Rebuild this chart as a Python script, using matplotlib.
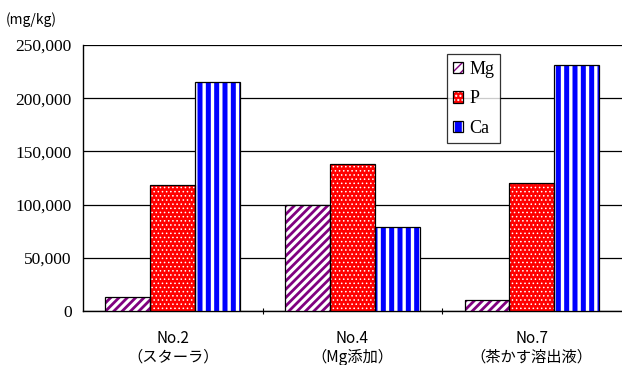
import matplotlib.pyplot as plt
import numpy as np
from matplotlib.patches import Patch
from matplotlib.legend_handler import HandlerTuple

# Element content per sample (mg/kg)
categories = ['No.2\n（スターラ）', 'No.4\n（Mg添加）', 'No.7\n（茶かす溶出液）']
series = ['Mg', 'P', 'Ca']
mg = [13500, 100000, 10500]
p = [118000, 138000, 120000]
ca = [215000, 79000, 231000]

values = [mg, p, ca]
hatches = ['////', '....', '||']
face = ['white', '#ff0000', '#0000ff']
hatch_col = ['#800080', 'white', 'white']
hatch_lw = [2.0, 0.6, 2.4]

fig = plt.figure(figsize=(6.22, 3.65), dpi=100)
ax = fig.add_axes([0.1334, 0.148, 0.866, 0.7287])

x = np.arange(len(categories))
w = 0.25
handles = []
for i, vals in enumerate(values):
    pos = x + (i - 1) * w
    bars = ax.bar(pos, vals, w, color=face[i], edgecolor=hatch_col[i],
                  hatch=hatches[i], linewidth=0, zorder=3)
    h1 = Patch(facecolor=face[i], edgecolor=hatch_col[i], hatch=hatches[i], linewidth=0)
    for b in list(bars) + [h1]:
        b.set_hatch_linewidth(hatch_lw[i])
    ax.bar(pos, vals, w, fill=False, edgecolor='black', linewidth=0.9, zorder=4)
    h2 = Patch(fill=False, edgecolor='black', linewidth=0.9)
    handles.append((h1, h2))

ax.set_xlim(-0.5, 2.5)
ax.set_ylim(0, 250000)
ax.set_yticks(np.arange(0, 250001, 50000))
ax.set_yticklabels([f'{v:,}' for v in range(0, 250001, 50000)],
                   family='Liberation Serif', fontsize=12.5)
ax.yaxis.grid(True, color='black', linewidth=0.9, zorder=0)
ax.set_axisbelow(True)
ax.tick_params(axis='y', length=0, pad=8)

ax.set_xticks(x)
ax.set_xticklabels(categories, family=['Noto Sans CJK JP', 'DejaVu Sans'],
                   fontsize=11, linespacing=1.1)
ax.tick_params(axis='x', length=0, pad=14)
ax.set_xticks([0.5, 1.5], minor=True)
ax.tick_params(axis='x', which='minor', length=4, direction='inout', width=0.8)

for s in ['top', 'right']:
    ax.spines[s].set_visible(False)
ax.spines['left'].set_linewidth(1.0)
ax.spines['bottom'].set_linewidth(1.0)

fig.text(0.01, 0.935, '(mg/kg)', family=['Noto Sans CJK JP', 'DejaVu Sans'],
         fontsize=10, ha='left', va='baseline')

leg = ax.legend(handles, series, handler_map={tuple: HandlerTuple(ndivide=1)},
                loc='upper left', bbox_to_anchor=(0.675, 0.965),
                prop={'family': 'Liberation Serif', 'size': 13},
                frameon=True, fancybox=False, edgecolor='black',
                handlelength=0.55, handleheight=0.6, handletextpad=0.35,
                labelspacing=0.7, borderpad=0.35, borderaxespad=0)
leg.get_frame().set_linewidth(0.9)
leg.set_zorder(5)

fig.savefig('out.png', dpi=100)
